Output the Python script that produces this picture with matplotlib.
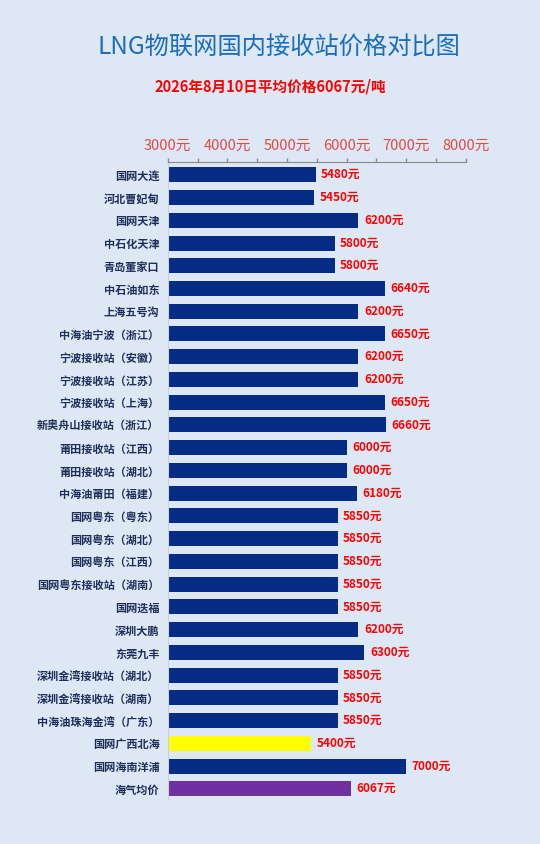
import numpy as np
import matplotlib
matplotlib.use('Agg')
import matplotlib.pyplot as plt
from matplotlib.ticker import MultipleLocator, FuncFormatter

plt.rcParams['font.family'] = ['Noto Sans CJK SC', 'DejaVu Sans']

# Data
stations = ['国网大连', '河北曹妃甸', '国网天津', '中石化天津', '青岛董家口',
            '中石油如东', '上海五号沟', '中海油宁波（浙江）', '宁波接收站（安徽）',
            '宁波接收站（江苏）', '宁波接收站（上海）', '新奥舟山接收站（浙江）',
            '莆田接收站（江西）', '莆田接收站（湖北）', '中海油莆田（福建）',
            '国网粤东（粤东）', '国网粤东（湖北）', '国网粤东（江西）',
            '国网粤东接收站（湖南）', '国网迭福', '深圳大鹏', '东莞九丰',
            '深圳金湾接收站（湖北）', '深圳金湾接收站（湖南）',
            '中海油珠海金湾（广东）', '国网广西北海', '国网海南洋浦', '海气均价']
prices = [5480, 5450, 6200, 5800, 5800, 6640, 6200, 6650, 6200, 6200, 6650,
          6660, 6000, 6000, 6180, 5850, 5850, 5850, 5850, 5850, 6200, 6300,
          5850, 5850, 5850, 5400, 7000, 6067]
title = 'LNG物联网国内接收站价格对比图'
subtitle = '2026年8月10日平均价格6067元/吨'

bg = '#dde8f4'
navy = '#042c84'
highlight = {'国网广西北海': '#ffff00', '海气均价': '#7030a0'}
colors = [highlight.get(s, navy) for s in stations]

fig = plt.figure(figsize=(5.4, 8.44), dpi=100)
fig.patch.set_facecolor(bg)
ax = fig.add_axes([0.3106, 0.0533, 0.5518, 0.7544])
ax.set_facecolor(bg)

y = np.arange(len(stations))
ax.barh(y, prices, height=0.66, color=colors, zorder=2)
ax.set_xlim(3000, 8000)
ax.set_ylim(len(stations) - 0.55, -0.55)

# value labels
for i, v in enumerate(prices):
    ax.annotate(f'{v}元', xy=(v, i), xytext=(4, 0), textcoords='offset points',
                va='center', ha='left', fontsize=8.5, fontweight='bold',
                color='#ff0000')

# axes styling
ax.xaxis.tick_top()
ax.xaxis.set_major_locator(MultipleLocator(1000))
ax.xaxis.set_minor_locator(MultipleLocator(500))
ax.xaxis.set_major_formatter(FuncFormatter(lambda x, p: f'{int(x)}元'))
ax.tick_params(axis='x', which='both', direction='out', length=3, width=1,
               color='#8a8a8a', top=True, bottom=False)
ax.tick_params(axis='x', which='major', labelsize=10.5, labelcolor='#e04a4a', pad=4)

ax.set_yticks(y)
ax.set_yticklabels(stations, fontsize=8, fontweight='bold', color='#1f2d5a')
ax.tick_params(axis='y', length=0, pad=6)

for s in ['bottom', 'right']:
    ax.spines[s].set_visible(False)
ax.spines['top'].set_color('#8a8a8a')
ax.spines['left'].set_color('#c8d2de')

# titles
fig.text(0.517, 0.943, title, ha='center', va='center', fontsize=17.5,
         fontweight='medium', color='#1a6ebd')
fig.text(0.5, 0.897, subtitle, ha='center', va='center', fontsize=10.5,
         fontweight='bold', color='#ff0000')

fig.savefig('out.png', dpi=100, facecolor=bg)
